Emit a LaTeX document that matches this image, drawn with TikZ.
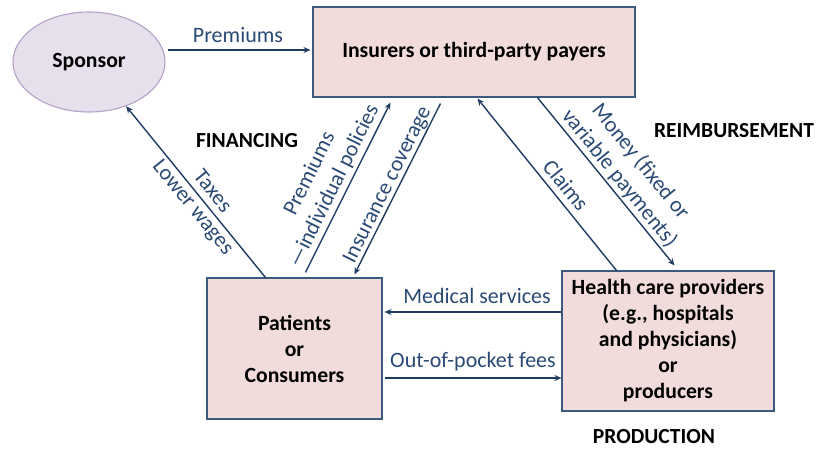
\documentclass[tikz,border=0pt]{standalone}
\usepackage{fontspec}
\setmainfont{Carlito}
\usetikzlibrary{arrows.meta,shapes.geometric}

\definecolor{boxfill}{HTML}{F2DCDB}
\definecolor{boxline}{HTML}{3B5A80}
\definecolor{ovalfill}{HTML}{E6E0EC}
\definecolor{ovalline}{HTML}{B3A2C7}
\definecolor{flow}{HTML}{1F3B64}
\definecolor{flowtext}{HTML}{2A4A75}

\begin{document}
\begin{tikzpicture}[x=1pt,y=-1pt,
  box/.style={draw=boxline, fill=boxfill, line width=1.1pt, inner sep=0pt,
    align=center, font=\bfseries\fontsize{21.7}{26}\selectfont},
  oval/.style={ellipse, draw=ovalline, fill=ovalfill, line width=1.1pt, inner sep=0pt,
    font=\bfseries\fontsize{21.7}{26}\selectfont},
  flowline/.style={draw=flow, line width=1.4pt, -{Stealth[length=7pt,width=6pt]}},
  flowlabel/.style={text=flowtext, inner sep=0pt, align=center,
    font=\fontsize{22}{25}\selectfont},
  sector/.style={inner sep=0pt, font=\bfseries\fontsize{21.5}{25}\selectfont}]

\useasboundingbox (0,0) rectangle (817,448);

% actors
\node[oval, minimum width=152pt, minimum height=100pt] (sponsor) at (89,62) {Sponsor};
\node[box, minimum width=322pt, minimum height=90pt] (insurers) at (474,52)
  {Insurers or third-party payers};
\node[box, minimum width=175pt, minimum height=141pt] (patients) at (294.5,348.5)
  {Patients\\or\\Consumers};
\node[box, minimum width=212pt, minimum height=140pt] (providers) at (668,341)
  {Health care providers\\(e.g., hospitals\\and physicians)\\or\\producers};

% sector headings
\node[sector] (financing) at (247,141) {FINANCING};
\node[sector] (reimbursement) at (734,131) {REIMBURSEMENT};
\node[sector] (production) at (654,437) {PRODUCTION};

% sponsor to insurers
\coordinate (premA) at ([shift={(2pt,12pt)}]sponsor.east);
\draw[flowline, shorten >=2pt] (premA) -- (premA -| insurers.west);
\node[flowlabel] (premlbl) at (238,35) {Premiums};

% patients to sponsor
\draw[flowline] ([xshift=59pt]patients.north west) -- (sponsor.-50);
\node[flowlabel, rotate=-51] (taxlbl) at (202,200) {Taxes\\Lower wages};

% patients and insurers
\draw[flowline] ([shift={(99pt,5pt)}]patients.north west)
  -- ([shift={(78pt,-5pt)}]insurers.south west);
\node[flowlabel, rotate=63.6, font=\fontsize{22}{27}\selectfont] (indivlbl) at (322,180)
  {Premiums\\—individual policies};
\draw[flowline] ([shift={(128pt,-6pt)}]insurers.south west)
  -- ([shift={(148pt,3pt)}]patients.north west);
\node[flowlabel, rotate=63.4] (coverlbl) at (388,185) {Insurance coverage};

% providers and insurers
\draw[flowline] ([xshift=55pt]providers.north west)
  -- ([shift={(165pt,-1pt)}]insurers.south west);
\node[flowlabel, rotate=-51] (claimlbl) at (566,185) {Claims};
\draw[flowline] ([xshift=225pt]insurers.south west)
  -- ([shift={(113pt,5pt)}]providers.north west);
\node[flowlabel, rotate=-51, font=\fontsize{22}{27}\selectfont] (moneylbl) at (630,170)
  {Money (fixed or\\variable payments)};

% providers and patients
\coordinate (medA) at (providers.west |- 0,312);
\draw[flowline, shorten >=2pt] (medA) -- (medA -| patients.east);
\node[flowlabel] (medlbl) at (477,296) {Medical services};
\coordinate (oopA) at ([xshift=2pt]patients.east |- 0,378);
\draw[flowline] (oopA) -- (oopA -| providers.west);
\node[flowlabel] (ooplbl) at (473,362) {Out-of-pocket fees};

\end{tikzpicture}
\end{document}
